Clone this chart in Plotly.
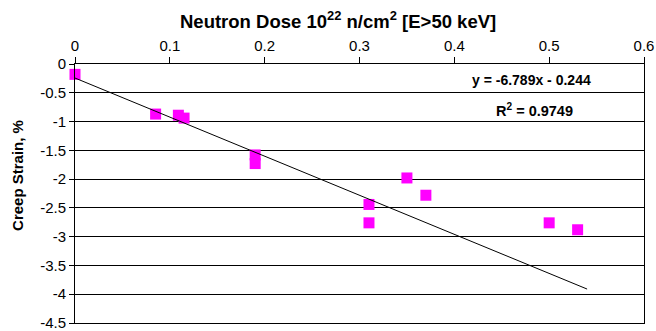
import numpy as np
import plotly.graph_objects as go

# Neutron dose (10^22 n/cm^2, E>50 keV) and measured creep strain (%)
dose = [0.0, 0.085, 0.109, 0.115, 0.19, 0.19, 0.31, 0.31, 0.35, 0.37, 0.50, 0.53]
strain = [-0.18, -0.87, -0.89, -0.94, -1.58, -1.73, -2.44, -2.76, -1.98, -2.28, -2.76, -2.88]

# Linear trendline reported on the chart
slope = -6.789
intercept = -0.244
r_squared = 0.9749
fit_x = [0.0, 0.54]

x_ticks = [0, 0.1, 0.2, 0.3, 0.4, 0.5, 0.6]
x_ticktext = ["0", "0.1", "0.2", "0.3", "0.4", "0.5", "0.6"]
y_ticks = [0, -0.5, -1, -1.5, -2, -2.5, -3, -3.5, -4, -4.5]
y_ticktext = ["0", "-0.5", "-1", "-1.5", "-2", "-2.5", "-3", "-3.5", "-4", "-4.5"]

FONT = "Arial, Liberation Sans, sans-serif"

fit_y = [slope * v + intercept for v in fit_x]

fig = go.Figure()
fig.add_trace(go.Scatter(
    x=dose, y=strain, mode="markers",
    marker=dict(symbol="square", size=11, color="#FF00FF", line=dict(width=0)),
    showlegend=False, cliponaxis=False,
))
fig.add_trace(go.Scatter(
    x=fit_x, y=fit_y, mode="lines",
    line=dict(color="black", width=1),
    showlegend=False,
))

fig.update_layout(
    width=656, height=331,
    margin=dict(l=75, r=12, t=64, b=8, autoexpand=False),
    paper_bgcolor="white", plot_bgcolor="white",
    font=dict(family=FONT, color="black", size=15),
    xaxis=dict(
        side="top", range=[0, 0.6], tickvals=x_ticks, ticktext=x_ticktext,
        automargin=False, ticklabeloverflow="allow",
        showgrid=False, zeroline=False,
        showline=True, linecolor="black", linewidth=1, mirror=True,
        ticks="outside", ticklen=6, tickcolor="black",
        tickfont=dict(size=15, family=FONT),
    ),
    yaxis=dict(
        range=[-4.5, 0], tickvals=y_ticks, ticktext=y_ticktext,
        automargin=False, ticklabeloverflow="allow",
        showgrid=True, gridcolor="black", gridwidth=1, zeroline=False,
        showline=True, linecolor="black", linewidth=1, mirror=True,
        ticks="outside", ticklen=5, tickcolor="black",
        tickfont=dict(size=15, family=FONT),
    ),
    annotations=[
        dict(text="<b>Neutron Dose 10<sup>22</sup> n/cm<sup>2</sup> [E>50 keV]</b>",
             xref="paper", yref="paper", x=(337.5 - 75) / 569, y=1 + (64 - 20) / 258,
             xanchor="center", yanchor="middle", showarrow=False,
             font=dict(size=18.5, family=FONT)),
        dict(text="<b>Creep Strain, %</b>", textangle=-90,
             xref="paper", yref="paper", x=(17.5 - 75) / 569, y=1 - (175 - 64) / 258,
             xanchor="center", yanchor="middle", showarrow=False,
             font=dict(size=15, family=FONT)),
        dict(text=f"<b>y = {slope:.3f}x - {abs(intercept):.3f}</b>",
             xref="paper", yref="paper", x=(531 - 75) / 569, y=1 - (80 - 64) / 258,
             xanchor="center", yanchor="middle", showarrow=False,
             font=dict(size=14, family=FONT)),
        dict(text=f"<b>R<sup>2</sup> = {r_squared:.4f}</b>",
             xref="paper", yref="paper", x=(534 - 75) / 569, y=1 - (110 - 64) / 258,
             xanchor="center", yanchor="middle", showarrow=False,
             font=dict(size=14.5, family=FONT)),
    ],
)

fig.write_html("out.html")
